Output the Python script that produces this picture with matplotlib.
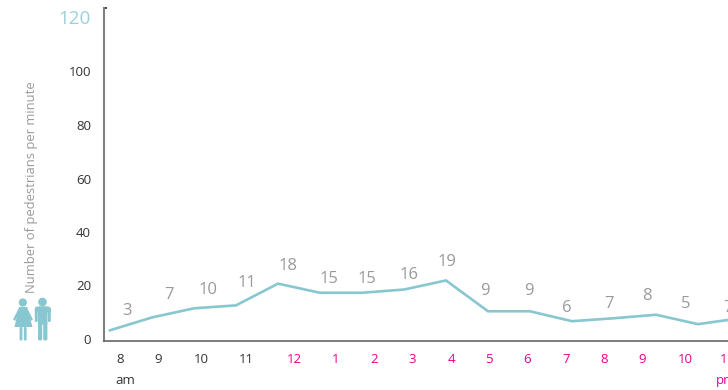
import matplotlib
matplotlib.use("Agg")
import matplotlib.pyplot as plt
from matplotlib.patches import Circle, Polygon, FancyBboxPatch

plt.rcParams['font.family'] = ['Open Sans', 'DejaVu Sans']

hours = ['8', '9', '10', '11', '12', '1', '2', '3', '4', '5', '6', '7', '8', '9', '10', '11']
counts = [3, 7, 10, 11, 18, 15, 15, 16, 19, 9, 9, 6, 7, 8, 5, 7]
line_values = [3.8, 8.6, 12, 13.1, 21.2, 17.8, 17.8, 19, 22.4, 10.9, 10.9, 7.2, 8.3, 9.6, 6.1, 8.3]
y_ticks = [0, 20, 40, 60, 80, 100, 120]
am_count = 4

# pixel layout
W, H = 728, 390
AX_L, AX_T, AX_B = 104, 8, 340.5
X0, DX = 110, 42
label_px = [120, 158, 201, 246, 294, 336, 374, 412, 451, 489, 527, 566, 604, 642, 685, 727]
value_px = [127, 169, 208, 247, 288, 329, 367, 409, 447, 485, 529, 567, 609, 647, 686, 728]
value_py = [311, 295, 290, 283, 266, 279, 279, 275, 262, 291, 291, 308, 304, 296, 304, 308]

TEAL = '#88C6D0'
PINK = '#EC008C'
GRAY = '#9A9A9A'
DARK = '#333333'

fig = plt.figure(figsize=(W / 100, H / 100), dpi=100)
ax = fig.add_axes([AX_L / W, 1 - AX_B / H, (W - AX_L) / W, (AX_B - AX_T) / H])
ax.set_xlim((AX_L - X0) / DX, (W - X0) / DX)
ax.set_ylim(0, 124)
ax.plot(range(len(line_values)), line_values, color=TEAL, lw=1.9, solid_joinstyle='miter', clip_on=True)

for s in ('top', 'right'):
    ax.spines[s].set_visible(False)
ax.spines['left'].set_color('#808080')
ax.spines['left'].set_linewidth(1.5)
ax.spines['bottom'].set_color('#666666')
ax.spines['bottom'].set_linewidth(1.2)
ax.set_xticks([])
ax.set_yticks(y_ticks)
ax.set_yticklabels([])
ax.tick_params(axis='y', length=0)
ax.plot([-0.14, -0.07], [124, 124], color='#222222', lw=1.2, clip_on=False, solid_capstyle='butt')

# overlay in pixel coordinates
ov = fig.add_axes([0, 0, 1, 1], facecolor='none')
ov.set_xlim(0, W)
ov.set_ylim(H, 0)
ov.axis('off')

for v in y_ticks:
    py = 340.5 - v * 2.675
    if v == 120:
        ov.text(91, py, str(v), ha='right', va='center', fontsize=13.6, color='#9CCFDA')
    else:
        ov.text(91, py, str(v), ha='right', va='center', fontsize=9.5, color=DARK)

for i, (h, x) in enumerate(zip(hours, label_px)):
    ov.text(x, 359.5, h, ha='center', va='center', fontsize=9.5, color=DARK if i < am_count else PINK)
ov.text(125, 380.5, 'am', ha='center', va='center', fontsize=9.5, color=DARK)
ov.text(726, 380.5, 'pm', ha='center', va='center', fontsize=9.5, color=PINK, clip_on=True)

for c, x, y in zip(counts, value_px, value_py):
    ov.text(x, y, str(c), ha='center', va='center', fontsize=12, color=GRAY)

ov.text(31.5, 187, 'Number of pedestrians per minute', rotation=90, ha='center', va='center',
        fontsize=9.4, color=GRAY)

# people icon
ov.add_patch(Circle((22.8, 302.5), 4.1, color=TEAL, lw=0))
ov.add_patch(Polygon([(19, 307), (27, 307), (32.5, 327), (14.5, 327)], closed=True, color=TEAL, lw=0))
ov.add_patch(Polygon([(19.5, 307), (13, 319.5), (15, 321), (21, 310)], closed=True, color=TEAL, lw=0))
ov.add_patch(Polygon([(26.5, 307), (33, 319.5), (31, 321), (25, 310)], closed=True, color=TEAL, lw=0))
for x in (19.6, 23.8):
    ov.add_patch(FancyBboxPatch((x, 327), 2.8, 13.5, boxstyle='round,pad=0,rounding_size=1', color=TEAL, lw=0))
ov.add_patch(Circle((42.5, 302), 4.3, color=TEAL, lw=0))
ov.add_patch(FancyBboxPatch((34.8, 306.5), 16, 6, boxstyle='round,pad=0,rounding_size=2.5', color=TEAL, lw=0))
ov.add_patch(FancyBboxPatch((38, 306.5), 9.5, 18, boxstyle='round,pad=0,rounding_size=1.5', color=TEAL, lw=0))
for x in (34.8, 47.9):
    ov.add_patch(FancyBboxPatch((x, 308), 2.9, 14, boxstyle='round,pad=0,rounding_size=1.3', color=TEAL, lw=0))
for x in (38, 43.2):
    ov.add_patch(FancyBboxPatch((x, 322), 4.2, 18.5, boxstyle='round,pad=0,rounding_size=1.8', color=TEAL, lw=0))

fig.savefig('out.png', dpi=100)
